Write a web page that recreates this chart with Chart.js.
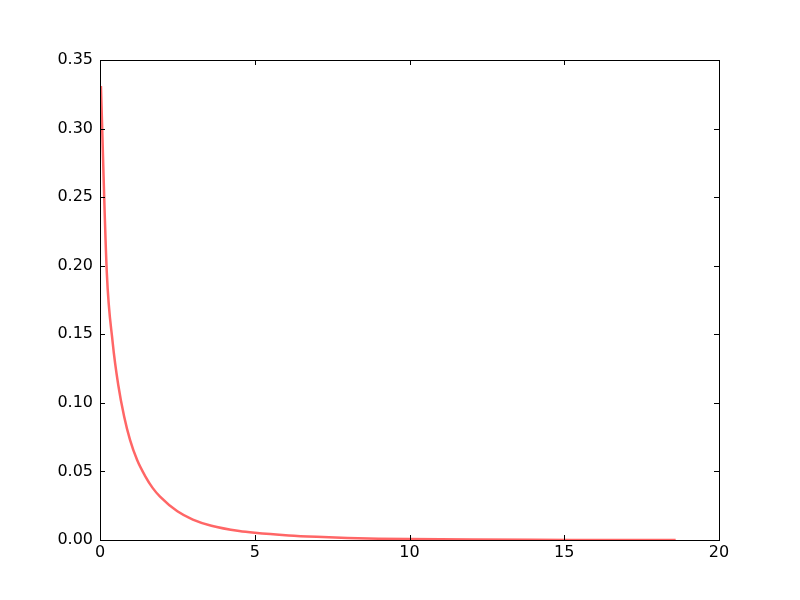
<!DOCTYPE html>
<html>
<head>
<meta charset="utf-8">
<title>Density curve</title>
<style>
  body { margin: 0; background: #ffffff; }
  #wrap { width: 800px; height: 600px; }
</style>
</head>
<body>
<div id="wrap"><canvas id="myChart" width="800" height="600"></canvas></div>
<script src="https://cdn.jsdelivr.net/npm/chart.js@4/dist/chart.umd.min.js"></script>
<script>
// values
var xs = [0.03, 0.22, 0.41, 0.59, 0.78, 0.97, 1.2, 1.45, 1.7, 1.94, 2.5, 3.0, 3.6, 4.5, 5.0, 6.1, 7.0, 8.0, 9.0, 10.0, 12.0, 14.0, 16.0, 18.6];
var ys = [0.331, 0.195, 0.144, 0.113, 0.090, 0.073, 0.0583, 0.047, 0.038, 0.0316, 0.0209, 0.0149, 0.0104, 0.0065, 0.0052, 0.0033, 0.0023, 0.0015, 0.001, 0.0007, 0.0003, 0.00014, 0.00007, 0.00003];
var xTicks = [0, 5, 10, 15, 20];
var yTicks = [0, 0.05, 0.10, 0.15, 0.20, 0.25, 0.30, 0.35];

var pts = xs.map(function (x, i) { return { x: x, y: ys[i] }; });

// frame + inward ticks on all four sides, like the original
var framePlugin = {
  id: 'frame',
  afterDraw: function (chart) {
    var c = chart.ctx, a = chart.chartArea;
    var sx = chart.scales.x, sy = chart.scales.y;
    c.save();
    c.strokeStyle = '#000';
    c.lineWidth = 1;
    c.strokeRect(a.left + 0.5, a.top + 0.5, a.right - a.left, a.bottom - a.top);
    c.beginPath();
    xTicks.forEach(function (v) {
      var px = Math.round(sx.getPixelForValue(v)) + 0.5;
      c.moveTo(px, a.bottom); c.lineTo(px, a.bottom - 5);
      c.moveTo(px, a.top); c.lineTo(px, a.top + 5);
    });
    yTicks.forEach(function (v) {
      var py = Math.round(sy.getPixelForValue(v)) + 0.5;
      c.moveTo(a.left, py); c.lineTo(a.left + 5, py);
      c.moveTo(a.right, py); c.lineTo(a.right - 5, py);
    });
    c.stroke();
    c.restore();
  }
};

var ctx = document.getElementById('myChart').getContext('2d');
var chart = new Chart(ctx, {
  type: 'line',
  data: {
    datasets: [{
      data: pts,
      borderColor: '#ff6666',
      borderWidth: 2.5,
      pointRadius: 0,
      fill: false,
      cubicInterpolationMode: 'monotone'
    }]
  },
  options: {
    responsive: false,
    animation: false,
    layout: { padding: { left: 0, top: 60, right: 81, bottom: 0 } },
    plugins: { legend: { display: false }, tooltip: { enabled: false } },
    scales: {
      x: {
        type: 'linear', min: 0, max: 20,
        grid: { display: false, drawTicks: false },
        border: { display: false },
        afterBuildTicks: function (s) { s.ticks = xTicks.map(function (v) { return { value: v }; }); },
        afterFit: function (s) { s.height = 60; },
        ticks: {
          padding: 3, color: '#000', maxRotation: 0,
          font: { family: 'DejaVu Sans', size: 16 },
          callback: function (v) { return String(v); }
        }
      },
      y: {
        type: 'linear', min: 0, max: 0.35,
        grid: { display: false, drawTicks: false },
        border: { display: false },
        afterBuildTicks: function (s) { s.ticks = yTicks.map(function (v) { return { value: v }; }); },
        afterFit: function (s) { s.width = 100; },
        ticks: {
          padding: 7, color: '#000',
          font: { family: 'DejaVu Sans', size: 16 },
          callback: function (v) { return Number(v).toFixed(2); }
        }
      }
    }
  },
  plugins: [framePlugin]
});
</script>
</body>
</html>
